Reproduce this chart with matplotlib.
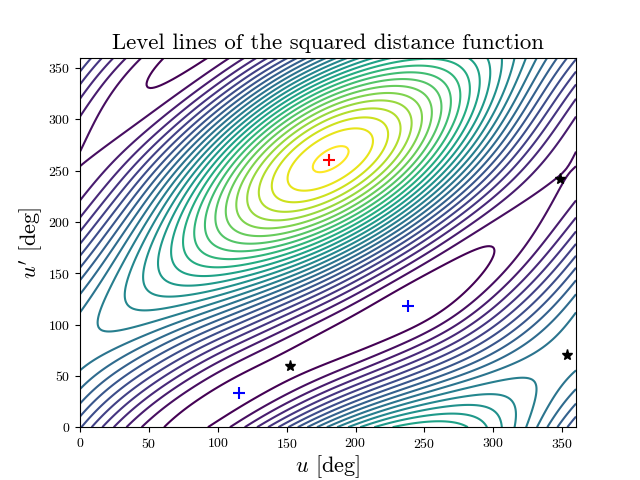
import numpy as np
import matplotlib
matplotlib.use('Agg')
import matplotlib.pyplot as plt

# Squared-distance field in units of one contour step, times ten, estimated from
# the reference at every 15 deg (rows: u' = 0..345, columns: u = 0..345).
field_tenths = [
[61,41,24,10,0,-3,-1,7,20,38,58,80,101,121,137,149,156,158,155,148,136,120,102,82],
[74,55,37,21,8,-1,-4,-2,5,17,32,50,68,86,103,117,128,135,138,136,131,121,108,92],
[85,69,52,35,20,8,0,-4,-3,3,12,25,40,55,71,86,99,109,117,121,122,118,111,99],
[95,82,68,52,36,21,10,1,-3,-4,0,7,17,29,42,56,70,83,94,103,109,111,110,104],
[102,94,83,69,54,39,25,13,4,-2,-4,-3,2,9,19,31,44,57,71,83,94,102,106,106],
[106,103,96,86,73,59,44,30,18,8,1,-4,-5,-3,3,11,22,34,48,63,77,89,98,104],
[106,109,107,102,92,80,67,52,38,25,13,4,-3,-6,-6,-2,5,15,28,43,59,75,88,99],
[103,111,115,114,110,101,90,77,62,47,33,19,8,-1,-6,-8,-5,1,12,26,42,59,76,91],
[96,109,118,123,124,121,113,103,90,74,58,42,26,13,2,-6,-8,-6,0,12,26,44,62,80],
[86,103,118,128,135,137,135,128,118,104,88,70,51,34,18,5,-4,-7,-6,2,14,29,48,67],
[74,95,113,129,142,150,153,152,145,135,120,102,82,61,41,23,8,-1,-5,-3,5,17,34,54],
[62,84,105,126,143,157,167,171,170,164,152,136,115,93,69,47,27,12,2,-2,0,9,23,41],
[49,71,95,119,141,160,176,187,191,190,183,169,150,127,102,76,52,31,14,4,1,4,14,29],
[37,58,82,108,134,158,179,196,207,212,209,200,183,162,136,108,80,54,32,16,7,4,9,20],
[26,45,68,95,123,151,177,199,216,227,230,226,213,194,169,141,110,81,55,33,17,8,7,13],
[18,33,54,80,109,139,168,195,218,235,244,245,237,222,199,171,141,109,79,52,31,17,9,10],
[13,23,41,64,92,123,155,185,213,235,249,256,254,243,224,199,168,136,104,74,48,28,15,10],
[10,15,28,48,74,104,136,169,200,226,246,258,262,256,242,220,192,160,127,95,66,42,24,13],
[10,10,18,33,55,83,114,148,180,210,234,251,260,260,251,233,209,180,148,115,84,57,34,18],
[13,8,10,20,37,61,90,122,155,187,214,235,249,254,251,238,219,193,164,132,101,72,46,26],
[19,8,5,10,22,41,66,95,127,158,187,212,230,240,241,235,221,200,174,145,115,86,59,36],
[27,12,4,3,9,23,43,68,97,127,156,182,203,217,224,223,214,199,179,154,127,99,72,47],
[37,19,7,1,1,9,23,44,68,95,123,149,171,188,199,204,201,192,177,157,134,109,84,59],
[49,29,14,3,-2,0,8,23,42,65,89,114,136,155,169,178,181,178,169,155,137,116,94,71],
]
max_u = [180.7]
max_v = [260.5]
min_u = [115.4, 238.0]
min_v = [33.2, 117.6]
saddle_u = [152.4, 348.7, 353.8]
saddle_v = [59.5, 242.0, 70.2]
level_count = 27

plt.rcParams['font.family'] = 'cmr10'
plt.rcParams['mathtext.fontset'] = 'cm'
plt.rcParams['axes.unicode_minus'] = False
plt.rcParams['axes.formatter.use_mathtext'] = True

# The field is periodic, so its 15 deg samples are resampled spectrally to draw
# smooth level lines.
Z = np.array(field_tenths, dtype=float) / 10
n = Z.shape[0]
m = 240
F = np.fft.fft2(Z)
G = np.zeros((m, m), dtype=complex)
for ky in range(-4, 5):
    for kx in range(-4, 5):
        G[ky % m, kx % m] = F[ky % n, kx % n]
fine = np.fft.ifft2(G).real * (m / n) ** 2
fine = np.vstack([fine, fine[:1]])
fine = np.hstack([fine, fine[:, :1]])
axis_deg = np.linspace(0, 360, m + 1)

fig, ax = plt.subplots(figsize=(6.4, 4.8), dpi=100)
ax.contour(axis_deg, axis_deg, fine, levels=np.arange(level_count),
           cmap='viridis', linewidths=1.5)
ax.plot(max_u, max_v, 'r+', ms=8.5, mew=1.5)
ax.plot(min_u, min_v, 'b+', ms=8.5, mew=1.5)
ax.plot(saddle_u, saddle_v, 'k*', ms=8)
ax.set_xlim(0, 360)
ax.set_ylim(0, 360)
ax.set_title('Level lines of the squared distance function', fontsize=16.4)
ax.set_xlabel('$u$ [deg]', fontsize=16, labelpad=2)
ax.set_ylabel("$u'$ [deg]", fontsize=16, labelpad=2)
fig.savefig('out.png', dpi=100)
